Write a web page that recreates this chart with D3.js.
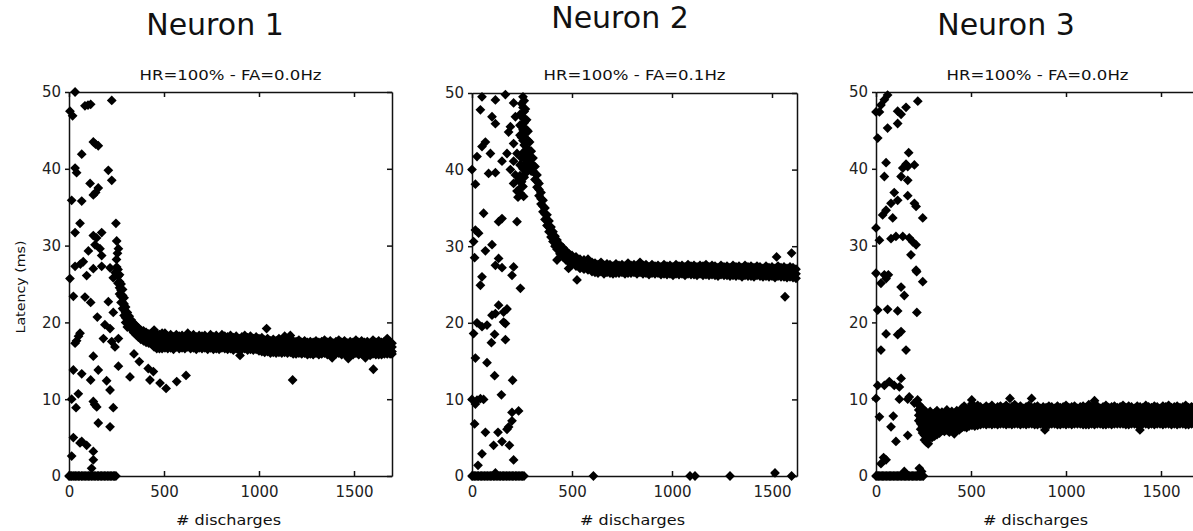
<!DOCTYPE html>
<html>
<head>
<meta charset="utf-8">
<script src="https://cdn.jsdelivr.net/npm/d3@7"></script>
<style>
body { margin: 0; background: #fff; }
svg { display: block; font-family: 'DejaVu Sans', Verdana, sans-serif; }
.axis .domain, .axis line { stroke: #111; stroke-width: 1.5; }
</style>
</head>
<body>
<svg id="chart" width="1193" height="531"></svg>
<script>
let titles = ['Neuron 1', 'Neuron 2', 'Neuron 3'];
let subtitles = ['HR=100% - FA=0.0Hz', 'HR=100% - FA=0.1Hz', 'HR=100% - FA=0.0Hz'];
let xLabel = '# discharges';
let yLabel = 'Latency (ms)';
let xTicks = [0, 500, 1000, 1500];
let yTicks = [0, 10, 20, 30, 40, 50];

// neuron 1: scattered early discharges [x, latency]
let scatter1 = [
  [5,47.5],[19,46.9],[32,50.0],[84,48.2],[100,48.3],[114,48.4],[225,48.9],
  [128,43.5],[140,43.2],[154,43.0],[67,41.9],[32,40.1],[40,39.5],[207,39.8],[225,38.5],[111,38.1],
  [154,37.5],[128,36.6],[140,36.9],[14,35.9],[67,35.8],
  [58,32.9],[247,32.9],[32,31.7],[128,31.3],[145,31.0],[172,31.7],[251,30.6],[137,30.1],[163,29.6],
  [260,29.6],[102,29.3],[255,29.0],[172,28.7],[250,28.2],[32,27.3],[75,27.9],[60,27.6],[128,27.0],
  [172,27.3],[216,27.1],[251,27.2],[243,26.5],[93,26.1],[233,25.8],[5,25.7],
  [23,23.4],[84,23.3],[114,22.6],[207,22.7],[233,21.3],[149,20.7],[189,19.7],[216,19.2],[181,17.9],
  [260,17.9],[58,18.6],[50,18.2],[32,17.3],[40,17.6],[225,17.5],[242,16.8],[128,15.6],[342,15.9],
  [370,14.9],[260,14.3],[154,13.8],[417,14.0],[444,13.6],[23,13.8],[67,13.3],[321,12.9],[114,12.5],
  [198,12.4],[426,12.5],[479,12.1],[511,11.4],[216,11.2],[567,12.3],[616,13.1],[49,10.7],[14,10.0],
  [37,8.9],[128,9.7],[135,9.3],[146,9.0],[233,8.9],[154,6.9],[216,6.4],[23,5.0],[67,4.5],[58,4.3],
  [93,4.0],[128,3.2],[128,2.1],[14,2.6],[119,1.0],
  [1040,19.2],[1177,12.5],[1602,13.9],[900,15.7],[1385,15.4],[1470,15.3],[1560,15.4]
];
let zeros1 = [0,6,13,21,27,35,42,50,57,66,73,80,88,95,103,110,118,126,133,141,149,156,164,171,179,187,194,202,210,217,225,233,240,247];
// dense band: [x, latency values at that x]
let band1 = [
  [258,26.9,26.0,25.1],[266,26.2,25.3,24.5,23.7],[274,25.0,24.2,23.4,22.6],[282,24.3,23.5,22.6,21.8],
  [290,23.2,22.4,21.6,20.9],[298,22.0,21.3,20.6,20.0],[307,21.3,20.6,20.0,19.4],[317,20.8,20.1,19.5],
  [328,20.3,19.7,19.1],[340,19.9,19.3,18.7],[352,19.6,19.0,18.4],[365,19.3,18.7,18.1],[378,19.0,18.4,17.8],
  [392,18.9,18.3,17.6],[406,18.7,18.1,17.4],[420,18.5,17.9,17.3],[434,18.6,17.9,17.2],
  [448,19.0,18.2,17.4,16.8],[462,18.5,17.8,17.1,16.6],[476,18.4,17.7,17.1,16.6],[490,18.6,17.8,17.2,16.6],
  [505,18.6,17.9,17.3,16.7],[520,18.2,17.6,17.1,16.6],[535,18.4,17.8,17.2,16.7],[550,18.1,17.6,17.0,16.5],
  [565,18.4,17.8,17.2,16.8],[580,18.2,17.6,17.1,16.6],[595,18.3,17.7,17.2,16.7],[610,18.1,17.6,17.0,16.6],
  [625,18.6,17.9,17.3,16.8],[640,18.2,17.6,17.1,16.6],[655,18.4,17.8,17.2,16.7],[670,18.1,17.6,17.0,16.5],
  [685,18.3,17.7,17.2,16.7],[700,18.2,17.6,17.1,16.6],[715,18.3,17.7,17.2,16.7],[730,18.0,17.5,17.0,16.5],
  [745,18.4,17.8,17.2,16.7],[760,18.1,17.6,17.0,16.5],[775,18.3,17.7,17.1,16.6],[790,18.0,17.5,17.0,16.5],
  [805,18.4,17.8,17.2,16.7],[820,18.2,17.6,17.1,16.6],[835,18.1,17.5,17.0,16.5],[850,18.3,17.7,17.1,16.6],
  [865,18.0,17.5,16.9,16.4],[880,18.2,17.6,17.1,16.6],[895,17.9,17.4,16.9,16.4],[910,18.1,17.6,17.0,16.5],
  [925,18.3,17.7,17.1,16.6],[940,18.0,17.5,16.9,16.4],[955,18.2,17.6,17.0,16.5],[970,17.9,17.4,16.9,16.4],
  [985,18.1,17.5,17.0,16.5],[1000,17.9,17.4,16.8,16.3],
  [1015,18.0,17.4,16.8,16.2],[1030,17.7,17.2,16.6,16.1],[1045,17.9,17.3,16.7,16.2],[1060,17.6,17.1,16.6,16.0],
  [1075,17.8,17.2,16.7,16.1],[1090,17.6,17.1,16.5,16.0],[1105,17.9,17.3,16.7,16.1],[1120,17.6,17.0,16.5,16.0],
  [1135,18.2,17.3,16.7,16.1],[1150,17.7,17.1,16.6,16.0],[1165,18.3,17.3,16.7,16.1],[1180,17.6,17.0,16.5,15.9],
  [1195,17.5,17.0,16.4,15.9],[1210,17.7,17.1,16.6,16.0],[1225,17.4,16.9,16.4,15.9],[1240,17.6,17.0,16.5,16.0],
  [1255,17.4,16.9,16.3,15.8],[1270,17.5,17.0,16.5,15.9],[1285,17.4,16.9,16.3,15.8],[1300,17.6,17.1,16.5,16.0],
  [1315,17.4,16.8,16.3,15.8],[1330,17.5,17.0,16.4,15.9],[1345,17.7,17.1,16.5,16.0],[1360,17.4,16.9,16.3,15.8],
  [1375,17.6,17.0,16.4,15.9],[1390,17.3,16.8,16.3,15.8],[1405,17.5,17.0,16.4,15.9],[1420,17.7,17.1,16.5,16.0],
  [1435,17.4,16.9,16.3,15.8],[1450,17.6,17.0,16.4,15.9],[1465,17.3,16.8,16.2,15.7],[1480,17.5,17.0,16.4,15.9],
  [1495,17.4,16.9,16.3,15.8],[1510,17.7,17.1,16.5,16.0],[1525,17.4,16.8,16.3,15.8],[1540,17.6,17.0,16.4,15.9],
  [1555,17.4,16.9,16.3,15.8],[1570,17.5,17.0,16.5,15.9],[1585,17.3,16.8,16.2,15.7],[1600,17.7,17.1,16.5,15.9],
  [1615,17.4,16.9,16.3,15.8],[1630,17.6,17.0,16.4,15.8],[1645,17.4,16.8,16.3,15.8],[1660,17.5,17.0,16.4,15.9],
  [1675,17.9,17.2,16.5,15.9],[1690,17.4,16.9,16.4,15.9],[1700,17.3,16.8,16.2,15.9]
];

// neuron 2
let scatter2 = [
  [50,49.5],[117,49.1],[167,49.8],[208,48.7],[42,47.8],[100,46.9],[117,46.0],[217,46.9],[192,45.6],
  [183,44.9],[208,43.4],[67,43.6],[50,43.0],[92,42.1],[25,41.7],[175,42.1],[225,42.1],[150,41.1],
  [208,41.1],[0,40.0],[83,39.5],[117,39.6],[192,40.0],[17,38.1],[217,39.3],[208,38.2],[233,38.6],
  [242,37.6],[242,36.9],[258,36.5],[225,37.2],[230,36.4],
  [58,34.3],[133,33.2],[150,33.6],[225,33.2],[17,32.1],[33,31.7],[8,30.6],[100,30.2],[67,29.4],
  [13,28.5],[133,28.4],[150,27.2],[208,27.3],[117,27.5],[200,26.2],[50,26.0],[425,28.2],[483,27.1],[525,25.6],
  [42,24.9],[242,24.5],[133,22.3],[175,21.8],[100,21.0],[117,21.2],[158,21.4],[158,20.1],[167,19.9],
  [25,20.0],[50,19.5],[75,19.7],[8,18.6],[113,18.5],[97,17.4],[167,17.8],[17,15.4],[75,14.8],
  [113,13.1],[203,12.5],[0,10.0],[25,9.9],[42,10.1],[58,10.0],[17,9.4],[147,10.6],[13,6.8],[67,5.7],
  [130,5.7],[108,4.0],[150,4.5],[187,4.0],[175,6.1],[183,6.4],[200,7.2],[200,8.3],[233,8.5],[208,2.1],
  [50,2.9],[30,1.4],[117,0.4],
  [1523,28.6],[1598,29.1],[1565,23.4],[1515,0.4]
];
let zeros2 = [0,5,12,19,26,33,41,48,55,63,70,77,85,92,99,107,114,121,129,136,143,151,158,165,173,180,187,195,202,209,217,224,231,239,246,253,260,607,1090,1115,1290,1598];
let band2 = [
  [240,47.2,45.8,44.5,40.6,39.2],[248,48.6,47.1,45.6,44.2,41.5,38.4],
  [255,49.5,48.1,46.7,45.2,43.8,42.2,40.1,37.8],[261,49.0,47.6,46.1,44.6,43.2,41.8,40.4,39.0],
  [267,47.9,46.4,45.0,43.6,42.2,40.8,39.5],[273,46.5,45.2,43.9,42.6,41.3,40.1],
  [280,45.0,43.8,42.6,41.5,40.4],[288,43.6,42.5,41.5,40.5],[296,42.4,41.5,40.6,39.8],
  [305,41.5,40.6,39.8],[315,40.4,39.5,38.7],[325,39.3,38.5,37.7],[335,38.2,37.4,36.6],
  [345,37.0,36.2,35.5],[355,36.0,35.2,34.5],[365,35.0,34.2,33.5],[375,34.1,33.3,32.7],
  [385,33.3,32.5,31.9],[395,32.5,31.8,31.2],[405,31.9,31.2,30.6],[415,31.3,30.6,30.0],
  [425,30.8,30.1,29.6],[440,30.2,29.6,29.0],[455,29.8,29.2,28.6],[470,29.4,28.8,28.2],
  [485,29.0,28.4,27.9],[500,28.8,28.2,27.6],[520,28.6,28.0,27.4],[540,28.3,27.7,27.1],
  [560,28.2,27.6,27.0],[580,28.3,27.5,26.9],[600,27.9,27.3,26.7],
  [615,27.8,27.2,26.6],[630,27.6,27.0,26.5],[645,27.9,27.3,26.7],[660,27.5,27.0,26.4],
  [675,27.7,27.1,26.6],[690,27.6,27.0,26.5],[705,27.4,26.9,26.4],[720,27.7,27.1,26.5],
  [735,27.5,27.0,26.5],[750,27.6,27.1,26.6],[765,27.4,26.9,26.4],[780,27.8,27.1,26.5],
  [795,27.5,27.0,26.5],[810,27.6,27.1,26.6],[825,27.4,26.9,26.4],[840,27.9,27.2,26.6],
  [855,27.5,27.0,26.4],[870,27.6,27.0,26.5],[885,27.3,26.8,26.3],[900,27.6,27.1,26.5],
  [915,27.4,26.9,26.4],[930,27.5,27.0,26.5],[945,27.3,26.8,26.3],[960,27.6,27.0,26.4],
  [975,27.4,26.9,26.3],[990,27.5,26.9,26.4],[1005,27.3,26.8,26.2],[1020,27.6,27.0,26.4],
  [1035,27.4,26.8,26.3],[1050,27.5,26.9,26.4],[1065,27.3,26.8,26.2],[1080,27.6,27.0,26.4],
  [1095,27.4,26.8,26.3],[1110,27.5,26.9,26.3],[1125,27.3,26.7,26.2],[1140,27.5,26.9,26.4],
  [1155,27.4,26.8,26.2],[1170,27.6,26.9,26.3],[1185,27.3,26.7,26.2],[1200,27.5,26.9,26.3],
  [1215,27.4,26.8,26.2],[1230,27.2,26.7,26.1],[1245,27.5,26.9,26.3],[1260,27.3,26.7,26.2],
  [1275,27.4,26.8,26.2],[1290,27.2,26.6,26.1],[1305,27.5,26.8,26.2],[1320,27.3,26.7,26.1],
  [1335,27.4,26.8,26.2],[1350,27.2,26.6,26.0],[1365,27.5,26.8,26.2],[1380,27.3,26.7,26.1],
  [1395,27.4,26.7,26.1],[1410,27.2,26.6,26.0],[1425,27.4,26.8,26.2],[1440,27.3,26.7,26.1],
  [1455,27.1,26.5,26.0],[1470,27.4,26.7,26.1],[1485,27.2,26.6,26.0],[1500,27.3,26.7,26.1],
  [1515,27.1,26.5,25.9],[1530,27.4,26.7,26.1],[1545,27.2,26.6,26.0],[1560,27.3,26.6,26.0],
  [1575,27.1,26.5,25.9],[1590,27.3,26.6,26.0],[1605,27.2,26.5,25.9],[1620,27.0,26.4,25.8]
];

// neuron 3
let scatter3 = [
  [61,49.6],[44,49.0],[26,48.3],[18,47.4],[0,47.4],[220,48.8],[114,47.5],[132,47.1],[158,48.0],
  [61,45.3],[114,45.9],[9,44.0],[172,42.1],[53,40.8],[44,39.0],[132,39.0],[141,40.1],[158,40.6],
  [167,40.3],[202,40.5],[167,38.5],[96,36.9],[114,35.9],[167,36.5],[79,35.5],[53,34.6],[35,34.0],
  [202,35.5],[211,35.1],[246,33.6],[88,33.6],[0,32.3],[18,30.7],[79,30.9],[105,31.2],[141,31.2],
  [175,31.0],[193,30.5],[211,30.1],[184,28.8],[211,26.8],[0,26.4],[26,25.1],[53,25.7],[44,26.2],
  [65,26.2],[214,26.6],[132,24.6],[149,23.5],[246,25.3],[9,21.6],[61,21.7],[114,21.5],[215,21.3],
  [53,18.5],[114,18.4],[132,18.8],[26,16.4],[158,16.4],[9,11.8],[44,11.8],[70,12.3],[96,11.8],
  [123,11.6],[132,12.7],[0,10.1],[123,10.0],[167,10.0],[175,10.3],[219,9.9],[202,9.5],[18,7.7],
  [91,7.8],[79,6.4],[105,4.5],[167,5.3],[26,1.6],[53,2.1],[40,2.4],[149,0.6],[228,1.0],[240,0.6],
  [705,10.1],[819,10.1],[889,6.0],[1389,6.0],[504,9.9],[1150,9.8]
];
let zeros3 = [0,6,13,20,27,34,41,48,56,63,70,77,84,91,99,106,113,120,127,134,142,149,156,163,170,177,185,192,199,206,213,220,228,235,242,249];
let band3 = [
  [225,9.3,8.6,7.9,7.2],[235,9.0,8.3,7.5,6.8,6.1],[245,8.8,8.0,7.2,6.4,5.6],
  [255,8.5,7.7,6.9,6.1,5.3,4.7],[265,8.3,7.5,6.7,5.9,5.1,4.4],[275,8.1,7.3,6.5,5.7,4.9,4.2],
  [285,8.4,7.6,6.8,6.0,5.2],[295,8.0,7.2,6.4,5.6,5.0],[308,8.2,7.4,6.6,5.8,5.2],
  [321,8.5,7.6,6.8,6.0,5.4],[334,7.9,7.1,6.3,5.6],[347,8.3,7.5,6.7,5.9],[360,8.1,7.3,6.5,5.8],
  [373,8.6,7.7,6.9,6.0],[386,8.0,7.2,6.4,5.7],[399,8.4,7.6,6.8,5.9],[412,8.2,7.4,6.6,5.5],
  [425,8.5,7.7,6.9,6.1],[438,8.3,7.5,6.7,6.0],[451,8.8,7.9,7.1,6.3],[464,9.1,8.1,7.3,6.4],
  [477,8.7,7.9,7.1,6.3],[490,8.9,8.1,7.3,6.5],[505,9.4,8.4,7.5,6.6],[520,8.9,8.1,7.3,6.5],
  [535,9.2,8.3,7.4,6.6],
  [550,9.0,8.2,7.4,6.7],[565,8.8,8.0,7.3,6.8],[580,9.1,8.3,7.5,6.7],[595,8.9,8.1,7.3,6.8],
  [610,9.2,8.3,7.5,6.7],[625,8.8,8.0,7.3,6.8],[640,9.0,8.2,7.4,6.7],[655,9.1,8.3,7.5,6.8],
  [670,8.9,8.1,7.3,6.8],[685,9.2,8.4,7.5,6.7],[700,8.9,8.1,7.4,6.8],[715,9.0,8.2,7.4,6.7],
  [730,9.3,8.4,7.6,6.8],[745,8.9,8.1,7.3,6.8],[760,9.1,8.3,7.5,6.7],[775,8.8,8.0,7.3,6.8],
  [790,9.0,8.2,7.5,6.7],[805,9.2,8.3,7.5,6.8],[820,8.9,8.1,7.4,6.8],[835,9.0,8.2,7.4,6.7],
  [850,9.1,8.3,7.5,6.7],[865,8.8,8.1,7.3,6.8],[880,9.0,8.2,7.4,6.7],[895,8.9,8.1,7.4,6.7],
  [910,9.1,8.3,7.5,6.7],[925,9.0,8.2,7.4,6.8],[940,8.8,8.1,7.3,6.8],[955,9.1,8.3,7.5,6.7],
  [970,8.9,8.1,7.4,6.7],[985,9.0,8.2,7.5,6.8],[1000,9.2,8.3,7.5,6.7],[1015,8.9,8.1,7.3,6.8],
  [1030,9.0,8.2,7.4,6.7],[1045,9.1,8.3,7.5,6.8],[1060,8.8,8.0,7.3,6.8],[1075,9.0,8.2,7.4,6.8],
  [1090,9.1,8.3,7.5,6.7],[1105,8.9,8.2,7.4,6.7],[1120,9.3,8.4,7.5,6.7],[1135,9.0,8.2,7.4,6.8],
  [1150,8.9,8.1,7.4,6.7],[1165,9.1,8.3,7.5,6.8],[1180,8.8,8.1,7.3,6.8],[1195,9.0,8.2,7.5,6.7],
  [1210,9.2,8.3,7.5,6.7],[1225,8.9,8.1,7.4,6.8],[1240,9.0,8.2,7.4,6.7],[1255,9.1,8.3,7.5,6.8],
  [1270,8.9,8.1,7.3,6.8],[1285,9.0,8.2,7.4,6.8],[1300,9.2,8.4,7.6,6.8],[1315,8.9,8.1,7.4,6.7],
  [1330,9.1,8.3,7.5,6.7],[1345,9.0,8.2,7.4,6.8],[1360,8.8,8.1,7.3,6.8],[1375,9.1,8.3,7.5,6.7],
  [1390,9.0,8.2,7.4,6.7],[1405,8.9,8.1,7.4,6.8],[1420,9.2,8.3,7.5,6.8],[1435,9.0,8.2,7.4,6.7],
  [1450,8.9,8.1,7.3,6.8],[1465,9.1,8.3,7.5,6.7],[1480,9.0,8.2,7.5,6.8],[1495,8.8,8.0,7.3,6.8],
  [1510,9.1,8.3,7.5,6.7],[1525,9.0,8.2,7.4,6.8],[1540,9.2,8.3,7.5,6.8],[1555,8.9,8.1,7.4,6.7],
  [1570,9.0,8.2,7.4,6.8],[1585,9.1,8.3,7.5,6.7],[1600,8.9,8.1,7.3,6.8],[1615,9.0,8.2,7.5,6.8],
  [1630,9.2,8.3,7.5,6.7],[1645,8.9,8.1,7.4,6.7],[1660,9.0,8.2,7.4,6.8],[1675,9.1,8.3,7.5,6.7]
];

function Panel(config) {
    this.left = config.left;
    this.right = config.right;
    this.top = config.top;
    this.bottom = config.bottom;
    this.xMax = config.xMax;
    this.titleX = config.titleX;
    this.titleY = config.titleY;
    this.title = config.title;
    this.subtitle = config.subtitle;
    this.scatter = config.scatter;
    this.zeros = config.zeros;
    this.band = config.band;
    this.showYLabel = !!config.showYLabel;
}

Panel.prototype.points = function() {
    let pts = this.scatter.map(function(d) { return {x: d[0], y: d[1]}; });
    this.zeros.forEach(function(x) { pts.push({x: x, y: 0}); });
    this.band.forEach(function(row) {
        row.slice(1).forEach(function(y) { pts.push({x: row[0], y: y}); });
    });
    return pts;
}

Panel.prototype.draw = function(svg) {
    let x = d3.scaleLinear().domain([0, this.xMax]).range([this.left, this.right]);
    let y = d3.scaleLinear().domain([0, 50]).range([this.bottom, this.top]);
    let cx = (this.left + this.right) / 2;
    let g = svg.append('g');

    g.append('g')
        .attr('class', 'axis')
        .attr('transform', 'translate(0,' + this.bottom + ')')
        .call(d3.axisBottom(x).tickValues(xTicks).tickFormat(d3.format('d'))
            .tickSizeInner(-5).tickSizeOuter(0).tickPadding(10))
        .attr('font-size', 15)
        .attr('font-family', null);
    g.append('g')
        .attr('class', 'axis')
        .attr('transform', 'translate(0,' + this.top + ')')
        .call(d3.axisTop(x).tickValues(xTicks).tickSizeInner(-5).tickSizeOuter(0).tickFormat(''));
    g.append('g')
        .attr('class', 'axis')
        .attr('transform', 'translate(' + this.left + ',0)')
        .call(d3.axisLeft(y).tickValues(yTicks).tickFormat(d3.format('d'))
            .tickSizeInner(4).tickSizeOuter(0).tickPadding(4))
        .attr('font-size', 15)
        .attr('font-family', null);
    g.append('g')
        .attr('class', 'axis')
        .attr('transform', 'translate(' + this.right + ',0)')
        .call(d3.axisRight(y).tickValues(yTicks).tickSizeInner(-5).tickSizeOuter(0).tickFormat(''));
    g.selectAll('.axis text').attr('fill', '#222');

    g.append('text')
        .attr('x', this.titleX)
        .attr('y', this.titleY)
        .attr('text-anchor', 'middle')
        .attr('font-size', 30)
        .attr('fill', '#111')
        .text(this.title);

    g.append('text')
        .attr('x', cx)
        .attr('y', 80)
        .attr('text-anchor', 'middle')
        .attr('font-size', 14)
        .attr('textLength', 182)
        .attr('lengthAdjust', 'spacingAndGlyphs')
        .attr('fill', '#111')
        .text(this.subtitle);

    g.append('text')
        .attr('x', cx - 2)
        .attr('y', 525)
        .attr('text-anchor', 'middle')
        .attr('font-size', 14)
        .attr('textLength', 105)
        .attr('lengthAdjust', 'spacingAndGlyphs')
        .attr('fill', '#111')
        .text(xLabel);

    if (this.showYLabel) {
        g.append('text')
            .attr('transform', 'translate(25,287) rotate(-90)')
            .attr('text-anchor', 'middle')
            .attr('font-size', 13)
            .attr('textLength', 93)
            .attr('lengthAdjust', 'spacingAndGlyphs')
            .attr('fill', '#111')
            .text(yLabel);
    }

    let diamond = d3.symbol().type(d3.symbolSquare).size(48)();
    g.append('g')
        .selectAll('path')
        .data(this.points())
        .enter()
        .append('path')
            .attr('d', diamond)
            .attr('transform', function(d) { return 'translate(' + x(d.x) + ',' + y(d.y) + ') rotate(45)'; })
            .attr('fill', '#000');
}

let svg = d3.select('#chart');
svg.append('rect').attr('width', 1193).attr('height', 531).attr('fill', '#fff');

let panels = [
    new Panel({left: 69, right: 392, top: 92, bottom: 476, xMax: 1700, titleX: 215, titleY: 35,
        title: titles[0], subtitle: subtitles[0], scatter: scatter1, zeros: zeros1, band: band1, showYLabel: true}),
    new Panel({left: 472, right: 797, top: 93, bottom: 476, xMax: 1625, titleX: 620, titleY: 28,
        title: titles[1], subtitle: subtitles[1], scatter: scatter2, zeros: zeros2, band: band2}),
    new Panel({left: 876, right: 1199, top: 92, bottom: 476, xMax: 1700, titleX: 1006, titleY: 35,
        title: titles[2], subtitle: subtitles[2], scatter: scatter3, zeros: zeros3, band: band3})
];

panels.forEach(function(p) { p.draw(svg); });
</script>
</body>
</html>
